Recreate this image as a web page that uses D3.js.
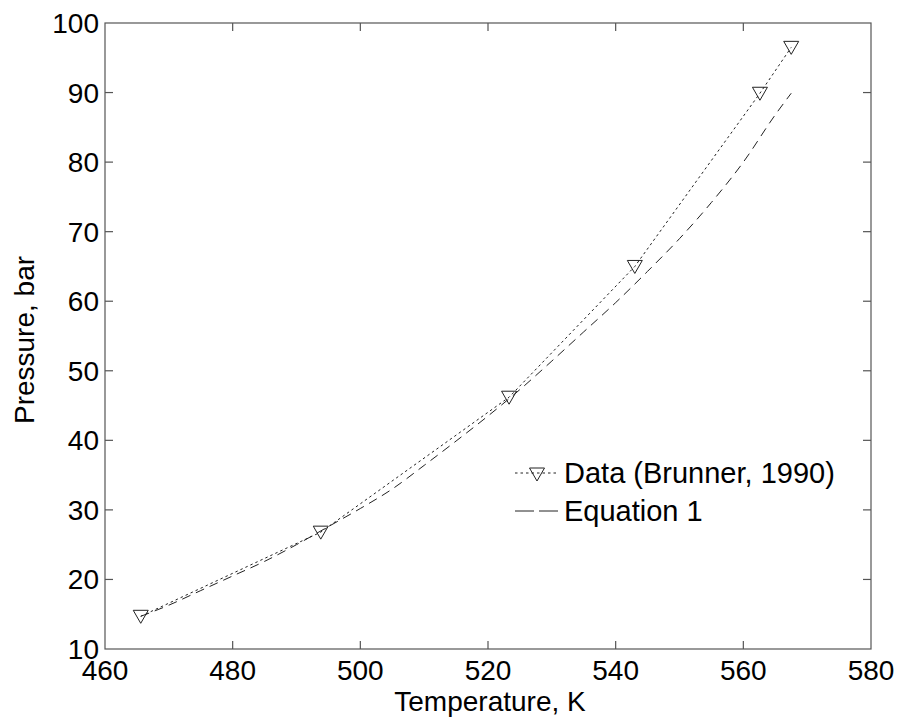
<!DOCTYPE html>
<html>
<head>
<meta charset="utf-8">
<script src="https://cdn.jsdelivr.net/npm/d3@7/dist/d3.min.js"></script>
<style>
    html, body { margin: 0; padding: 0; background: #fff; }
    svg { display: block; font-family: Arial, "Liberation Sans", sans-serif; }
    .frame { fill: none; stroke: #555; stroke-width: 1.2; }
    .tick-mark { stroke: #555; stroke-width: 1.2; }
    .tick-label { font-size: 28px; fill: #000; }
    .axis-label { font-size: 28px; fill: #000; }
    .legend-text { font-size: 29px; fill: #000; }
</style>
</head>
<body>
<svg id="chart" width="901" height="719"></svg>
<script>
(function(window) {
    'use strict';

    // measured data, Brunner 1990
    var dataT = [465.6, 493.8, 523.3, 543.0, 562.6, 567.5];
    var dataP = [14.7, 26.8, 46.2, 65.0, 89.9, 96.5];

    // Equation 1 curve
    var eqT = [465.6, 470, 475, 480, 485, 490, 495, 500, 505, 510, 515,
               520, 525, 530, 535, 540, 545, 550, 555, 560, 565, 567.5];
    var eqP = [14.7, 16.3, 18.4, 20.5, 22.6, 25.0, 27.6, 30.2, 33.0, 36.4, 39.9,
               43.5, 47.3, 51.4, 55.6, 59.8, 64.3, 69.0, 74.2, 80.0, 86.8, 89.9];

    var xTicks = [460, 480, 500, 520, 540, 560, 580];
    var yTicks = [10, 20, 30, 40, 50, 60, 70, 80, 90, 100];

    var legendLabels = ['Data (Brunner, 1990)', 'Equation 1'];

    /******************************************************************
        scales
     ******************************************************************/
    var margin = {left: 105, top: 23, right: 30, bottom: 70},
        width = 901 - margin.left - margin.right,
        height = 719 - margin.top - margin.bottom;

    var x = d3.scaleLinear().domain([460, 580]).range([0, width]);
    var y = d3.scaleLinear().domain([10, 100]).range([height, 0]);

    var svg = d3.select('#chart');
    var plot = svg.append('g')
        .attr('transform', 'translate(' + [margin.left, margin.top] + ')');

    /******************************************************************
        ticks (inside, on all four sides) and frame
     ******************************************************************/
    var tl = 8;

    plot.selectAll('.xt-bottom')
        .data(xTicks.slice(1, -1))
        .enter().append('line')
            .attr('class', 'tick-mark')
            .attr('x1', function(d) { return x(d); })
            .attr('x2', function(d) { return x(d); })
            .attr('y1', height)
            .attr('y2', height - tl);

    plot.selectAll('.xt-top')
        .data(xTicks.slice(1, -1))
        .enter().append('line')
            .attr('class', 'tick-mark')
            .attr('x1', function(d) { return x(d); })
            .attr('x2', function(d) { return x(d); })
            .attr('y1', 0)
            .attr('y2', tl);

    plot.selectAll('.yt-left')
        .data(yTicks.slice(1, -1))
        .enter().append('line')
            .attr('class', 'tick-mark')
            .attr('x1', 0)
            .attr('x2', tl)
            .attr('y1', function(d) { return y(d); })
            .attr('y2', function(d) { return y(d); });

    plot.selectAll('.yt-right')
        .data(yTicks.slice(1, -1))
        .enter().append('line')
            .attr('class', 'tick-mark')
            .attr('x1', width)
            .attr('x2', width - tl)
            .attr('y1', function(d) { return y(d); })
            .attr('y2', function(d) { return y(d); });

    plot.append('rect')
        .attr('class', 'frame')
        .attr('x', 0)
        .attr('y', 0)
        .attr('width', width)
        .attr('height', height);

    plot.selectAll('.x-label')
        .data(xTicks)
        .enter().append('text')
            .attr('class', 'tick-label')
            .attr('x', function(d) { return x(d); })
            .attr('y', height + 31)
            .attr('text-anchor', 'middle')
            .text(function(d) { return d; });

    plot.selectAll('.y-label')
        .data(yTicks)
        .enter().append('text')
            .attr('class', 'tick-label')
            .attr('x', -6)
            .attr('y', function(d) { return y(d) + 10; })
            .attr('text-anchor', 'end')
            .text(function(d) { return d; });

    svg.append('text')
        .attr('class', 'axis-label')
        .attr('x', 490)
        .attr('y', 711)
        .attr('text-anchor', 'middle')
        .text('Temperature, K');

    svg.append('text')
        .attr('class', 'axis-label')
        .attr('text-anchor', 'middle')
        .attr('transform', 'translate(34,' + 340 + ') rotate(-90)')
        .text('Pressure, bar');

    /******************************************************************
        lines
     ******************************************************************/
    var line = d3.line()
        .x(function(d) { return x(d[0]); })
        .y(function(d) { return y(d[1]); });

    var eq = d3.zip(eqT, eqP);
    var pts = d3.zip(dataT, dataP);

    plot.append('path')
        .datum(eq)
        .attr('d', d3.line()
            .curve(d3.curveMonotoneX)
            .x(function(d) { return x(d[0]); })
            .y(function(d) { return y(d[1]); }))
        .attr('fill', 'none')
        .attr('stroke', '#222')
        .attr('stroke-width', 1)
        .attr('stroke-dasharray', '9,6');

    plot.append('path')
        .datum(pts)
        .attr('d', line)
        .attr('fill', 'none')
        .attr('stroke', '#222')
        .attr('stroke-width', 1)
        .attr('stroke-dasharray', '2.5,3');

    var tri = function(cx, cy) {
        return 'M' + (cx - 7.5) + ',' + (cy - 6) +
               'L' + (cx + 7.5) + ',' + (cy - 6) +
               'L' + cx + ',' + (cy + 7) + 'Z';
    };

    plot.selectAll('.marker')
        .data(pts)
        .enter().append('path')
            .attr('class', 'marker')
            .attr('d', function(d) { return tri(x(d[0]), y(d[1])); })
            .attr('fill', 'none')
            .attr('stroke', '#222')
            .attr('stroke-width', 1);

    /******************************************************************
        legend
     ******************************************************************/
    var lg = svg.append('g');

    lg.append('line')
        .attr('x1', 515).attr('x2', 558)
        .attr('y1', 473).attr('y2', 473)
        .attr('stroke', '#222')
        .attr('stroke-dasharray', '2.5,3');

    lg.append('path')
        .attr('d', tri(537, 474))
        .attr('fill', 'none')
        .attr('stroke', '#222');

    lg.append('line')
        .attr('x1', 515).attr('x2', 558)
        .attr('y1', 511).attr('y2', 511)
        .attr('stroke', '#222')
        .attr('stroke-dasharray', '19,5');

    lg.selectAll('.legend-text')
        .data(legendLabels)
        .enter().append('text')
            .attr('class', 'legend-text')
            .attr('x', 564)
            .attr('y', function(d, i) { return 483 + i * 38; })
            .text(function(d) { return d; });

})(window);
</script>
</body>
</html>
